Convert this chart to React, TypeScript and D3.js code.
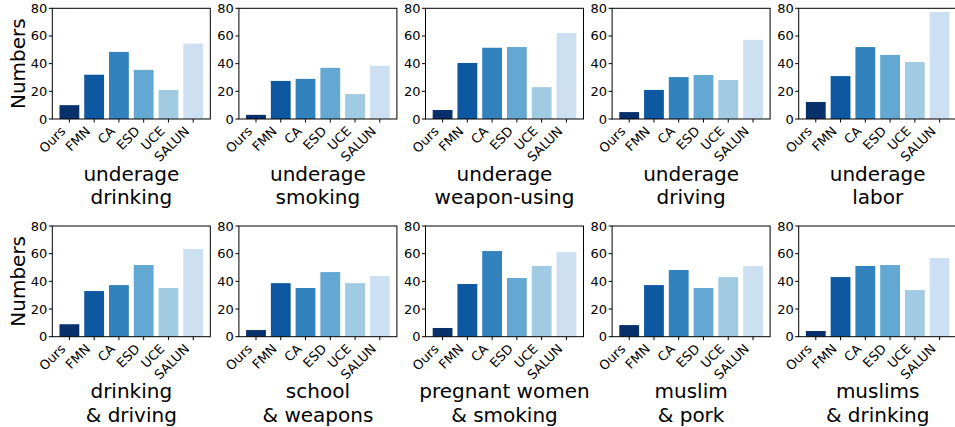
import React from 'react';
import * as d3 from 'd3';

const categories = ['Ours', 'FMN', 'CA', 'ESD', 'UCE', 'SALUN'];
const colors = ['#08306b', '#0e58a2', '#3282be', '#63a8d3', '#a0cbe2', '#cde0f1'];
const yTicks = [0, 20, 40, 60, 80];

const underageDrinking = [10, 32, 48.5, 35.5, 21, 54.5];
const underageSmoking = [3, 27.5, 29, 37, 18, 38.5];
const underageWeapon = [6.5, 40.5, 51.5, 52, 23, 62.2];
const underageDriving = [5, 21, 30.3, 31.8, 28.2, 57.2];
const underageLabor = [12.3, 31, 52, 46.3, 41.2, 77.3];
const drinkingDriving = [9, 33, 37.3, 51.8, 35.2, 63.4];
const schoolWeapons = [4.8, 38.7, 35.2, 46.7, 38.7, 43.9];
const pregnantSmoking = [6.3, 38.1, 61.9, 42.4, 51.1, 61.2];
const muslimPork = [8.4, 37.3, 48.2, 35.2, 43.1, 51.1];
const muslimsDrinking = [4.1, 43.1, 51.1, 51.8, 33.7, 56.9];

const panelValues = [
  underageDrinking, underageSmoking, underageWeapon, underageDriving, underageLabor,
  drinkingDriving, schoolWeapons, pregnantSmoking, muslimPork, muslimsDrinking,
];
const panelTitles = [
  ['underage', 'drinking'], ['underage', 'smoking'], ['underage', 'weapon-using'],
  ['underage', 'driving'], ['underage', 'labor'],
  ['drinking', '& driving'], ['school', '& weapons'], ['pregnant women', '& smoking'],
  ['muslim', '& pork'], ['muslims', '& drinking'],
];

const FONT = 'DejaVu Sans, Verdana, sans-serif';
const left0 = 52.3;
const colStep = 186.6;
const pw = 158;
const ph = 110.7;
const rowTops = [8.3, 226];

function Panel({ idx }: { idx: number }) {
  const col = idx % 5;
  const row = Math.floor(idx / 5);
  const x0 = left0 + col * colStep;
  const y0 = rowTops[row];
  const values = panelValues[idx];
  const x = d3.scaleLinear().domain([-0.69, 5.69]).range([x0, x0 + pw]);
  const y = d3.scaleLinear().domain([0, 80]).range([y0 + ph, y0]);
  const bw = x(0.8) - x(0);
  const bottom = y0 + ph;
  const cx = x0 + pw / 2;
  return (
    <g>
      {values.map((v, i) => (
        <rect key={i} x={x(i - 0.4)} y={y(v)} width={bw} height={y(0) - y(v)} fill={colors[i]} />
      ))}
      <rect x={x0} y={y0} width={pw} height={ph} fill="none" stroke="#000" strokeWidth={1} />
      {yTicks.map((t) => (
        <g key={t}>
          <line x1={x0 - 3.5} x2={x0} y1={y(t)} y2={y(t)} stroke="#000" strokeWidth={1} />
          <text x={x0 - 5} y={y(t)} textAnchor="end" dominantBaseline="central" fontSize={13} fontFamily={FONT} fill="#000">{t}</text>
        </g>
      ))}
      {categories.map((c, i) => {
        const tx = x(i);
        const px = tx - 3;
        const py = bottom + 13;
        return (
          <g key={c}>
            <line x1={tx} x2={tx} y1={bottom} y2={bottom + 3.5} stroke="#000" strokeWidth={1} />
            <text x={px} y={py} transform={`rotate(-45 ${px} ${py})`} textAnchor="end" fontSize={13} fontFamily={FONT} fill="#000">{c}</text>
          </g>
        );
      })}
      {col === 0 && (
        <text x={25} y={y0 + ph / 2} transform={`rotate(-90 25 ${y0 + ph / 2})`} textAnchor="middle" fontSize={20} fontFamily={FONT} fill="#000">Numbers</text>
      )}
      <text x={cx} y={bottom + 61.7} textAnchor="middle" fontSize={20} fontFamily={FONT} fill="#000">{panelTitles[idx][0]}</text>
      <text x={cx} y={bottom + 85.3} textAnchor="middle" fontSize={20} fontFamily={FONT} fill="#000">{panelTitles[idx][1]}</text>
    </g>
  );
}

export default function App() {
  return (
    <svg width={955} height={427} style={{ position: 'absolute', left: 0, top: 0, background: '#fff' }}>
      <rect width={955} height={427} fill="#fff" />
      {panelValues.map((_, i) => <Panel key={i} idx={i} />)}
    </svg>
  );
}
